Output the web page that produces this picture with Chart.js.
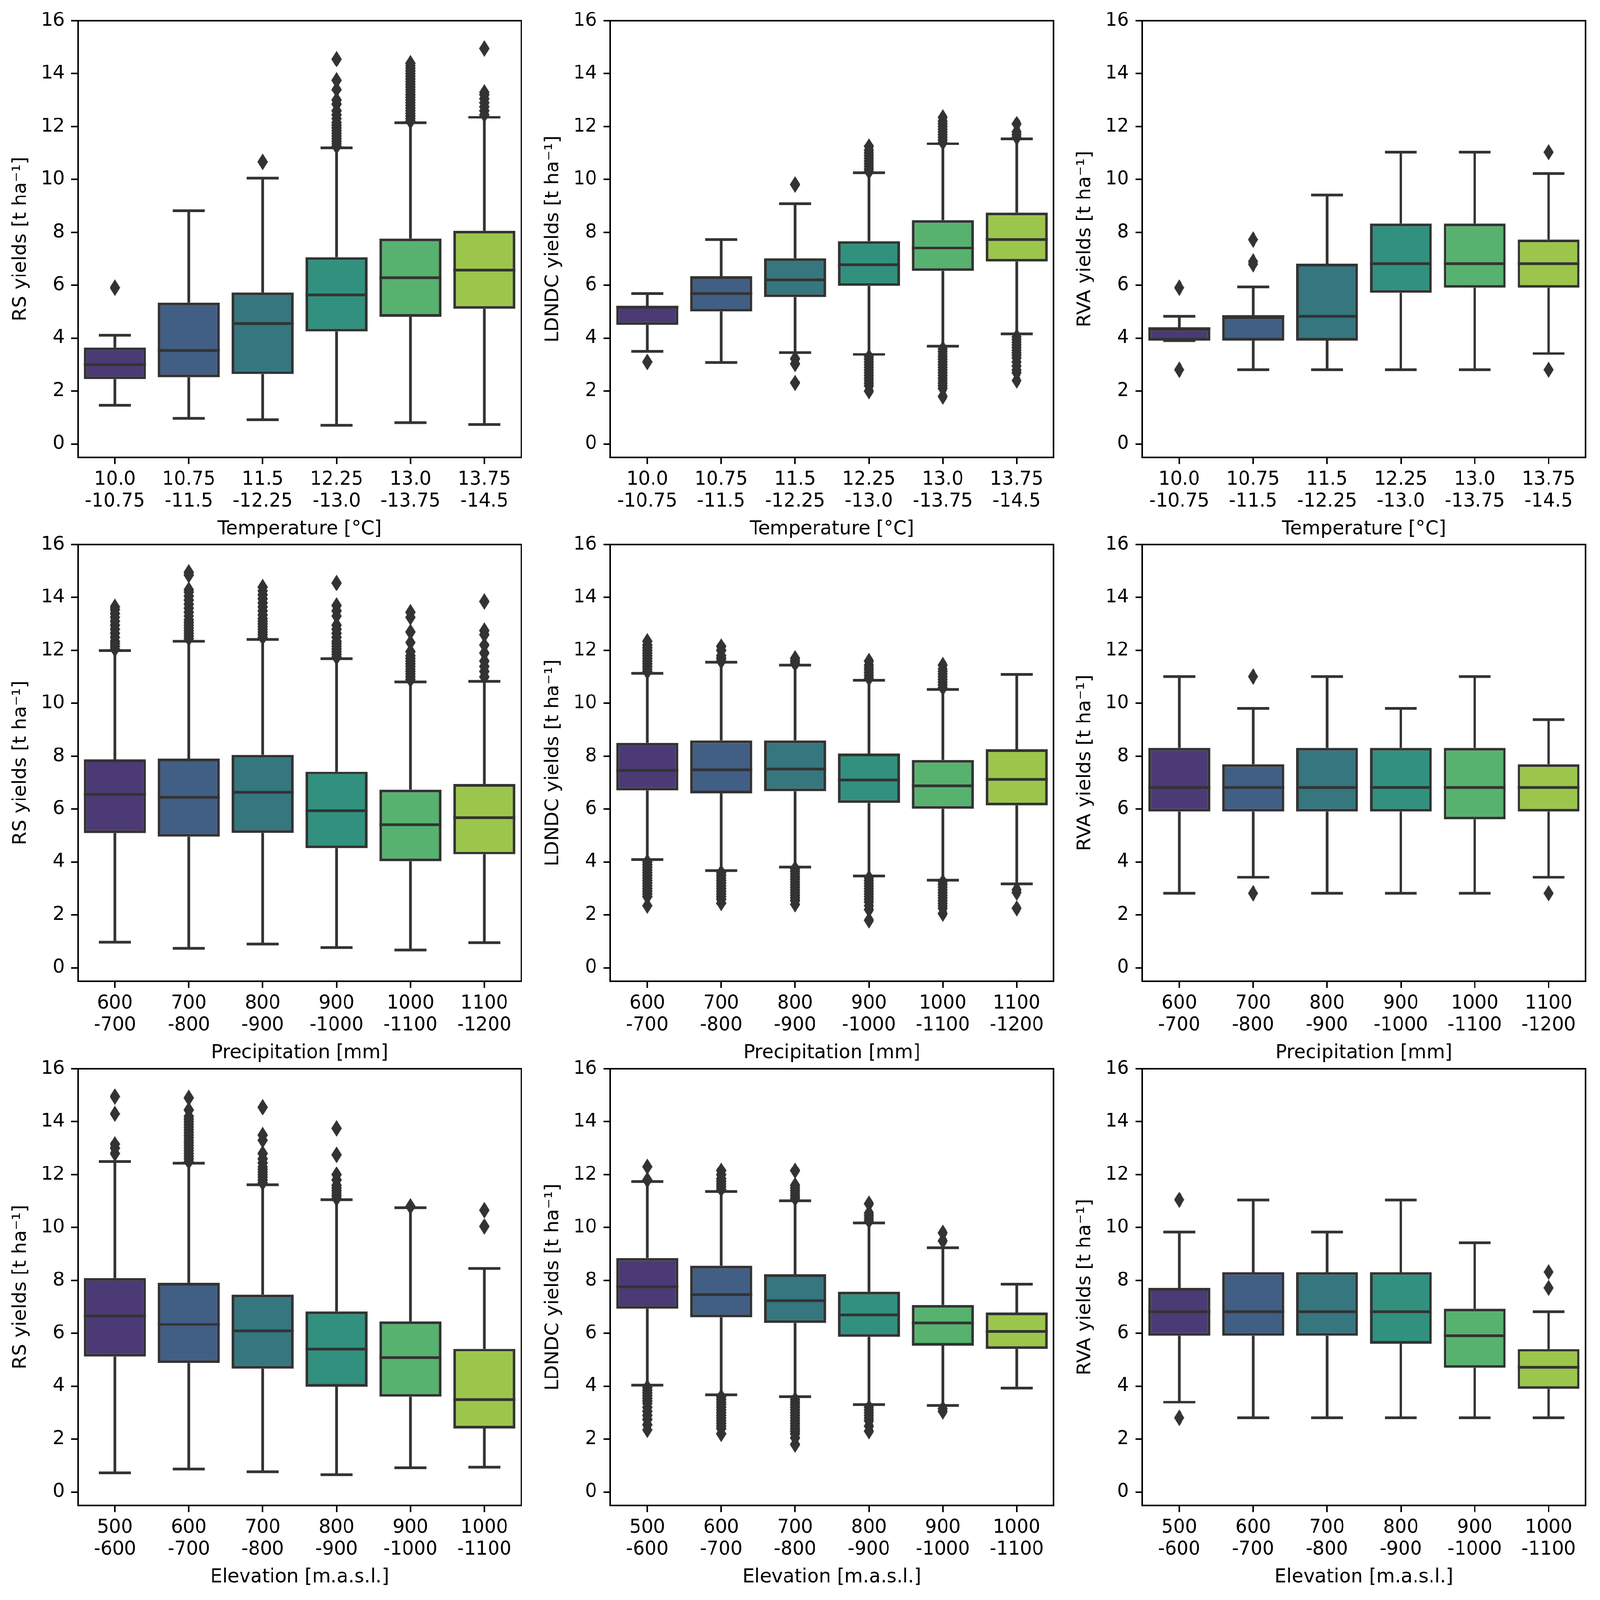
<!DOCTYPE html>
<html>
<head>
<meta charset="utf-8">
<script src="https://cdn.jsdelivr.net/npm/chart.js@4"></script>
<style>
  html, body { margin: 0; padding: 0; background: #fff; overflow: hidden; }
  #fig { position: absolute; left: 0; top: 0; width: 4205px; height: 4157px; transform-origin: 0 0; }
  canvas { position: absolute; }
</style>
</head>
<body>
<div id="fig"></div>
<script>
// x categories (two-line range labels) and y ticks
const tempCats = [['10.0', '-10.75'], ['10.75', '-11.5'], ['11.5', '-12.25'], ['12.25', '-13.0'], ['13.0', '-13.75'], ['13.75', '-14.5']];
const precCats = [['600', '-700'], ['700', '-800'], ['800', '-900'], ['900', '-1000'], ['1000', '-1100'], ['1100', '-1200']];
const elevCats = [['500', '-600'], ['600', '-700'], ['700', '-800'], ['800', '-900'], ['900', '-1000'], ['1000', '-1100']];
const yTicks = [0, 2, 4, 6, 8, 10, 12, 14, 16];

// RS yields ~ temperature
const rsTempLo  = [1.47, 0.97, 0.92, 0.71, 0.81, 0.74];
const rsTempQ1  = [2.46, 2.53, 2.65, 4.25, 4.81, 5.11];
const rsTempMed = [3.00, 3.54, 4.56, 5.64, 6.28, 6.58];
const rsTempQ3  = [3.65, 5.34, 5.73, 7.06, 7.77, 8.06];
const rsTempHi  = [4.11, 8.82, 10.05, 11.19, 12.14, 12.35];
const rsTempOut = [
  [5.91], [], [10.67],
  [11.25, 11.35, 11.45, 11.55, 11.65, 11.75, 11.85, 11.95, 12.05, 12.15, 12.3, 12.45, 12.6, 12.85, 13.0, 13.4, 13.75, 14.55],
  [12.2, 12.3, 12.4, 12.5, 12.6, 12.7, 12.8, 12.9, 13.0, 13.1, 13.2, 13.3, 13.4, 13.5, 13.6, 13.7, 13.8, 13.9, 14.0, 14.1, 14.2, 14.3, 14.4],
  [12.45, 12.6, 12.75, 12.9, 13.05, 13.2, 13.3, 14.95]
];

// LDNDC yields ~ temperature
const ldTempLo  = [3.51, 3.08, 3.46, 3.39, 3.70, 4.16];
const ldTempQ1  = [4.51, 5.01, 5.56, 5.98, 6.55, 6.90];
const ldTempMed = [5.17, 5.69, 6.20, 6.78, 7.41, 7.73];
const ldTempQ3  = [5.22, 6.34, 7.02, 7.67, 8.47, 8.75];
const ldTempHi  = [5.69, 7.73, 9.08, 10.25, 11.35, 11.54];
const ldTempOut = [
  [3.10], [],
  [3.22, 3.03, 2.31, 9.81],
  [10.3, 10.4, 10.5, 10.6, 10.7, 10.8, 10.9, 11.0, 11.1, 11.25, 3.3, 3.2, 3.1, 3.0, 2.9, 2.8, 2.7, 2.6, 2.5, 2.4, 2.3, 2.2, 2.0],
  [11.4, 11.5, 11.6, 11.7, 11.8, 11.9, 12.0, 12.1, 12.2, 12.35, 3.6, 3.5, 3.4, 3.3, 3.2, 3.1, 3.0, 2.9, 2.8, 2.7, 2.6, 2.5, 2.4, 2.3, 2.2, 2.1, 1.8],
  [11.6, 11.7, 11.8, 12.1, 4.05, 3.95, 3.85, 3.75, 3.65, 3.55, 3.45, 3.35, 3.25, 3.1, 2.95, 2.8, 2.7, 2.4]
];

// RVA yields ~ temperature
const rvTempLo  = [3.91, 2.81, 2.81, 2.81, 2.81, 3.42];
const rvTempQ1  = [3.91, 3.91, 3.91, 5.72, 5.91, 5.91];
const rvTempMed = [4.37, 4.82, 4.83, 6.82, 6.82, 6.82];
const rvTempQ3  = [4.37, 4.82, 6.82, 8.33, 8.33, 7.73];
const rvTempHi  = [4.83, 5.94, 9.42, 11.03, 11.03, 10.22];
const rvTempOut = [[5.91, 2.81], [6.8, 6.9, 7.73], [], [], [], [2.81, 11.03]];

// RS yields ~ precipitation
const rsPrecLo  = [0.97, 0.74, 0.90, 0.77, 0.68, 0.95];
const rsPrecQ1  = [5.09, 4.96, 5.10, 4.53, 4.03, 4.29];
const rsPrecMed = [6.56, 6.45, 6.64, 5.94, 5.42, 5.68];
const rsPrecQ3  = [7.88, 7.91, 8.05, 7.42, 6.74, 6.95];
const rsPrecHi  = [11.99, 12.35, 12.42, 11.69, 10.81, 10.83];
const rsPrecOut = [
  [12.05, 12.15, 12.25, 12.35, 12.5, 12.65, 12.8, 12.95, 13.1, 13.25, 13.4, 13.55, 13.65],
  [12.45, 12.55, 12.65, 12.75, 12.85, 12.95, 13.05, 13.15, 13.3, 13.45, 13.6, 13.75, 13.9, 14.05, 14.2, 14.3, 14.85, 14.95],
  [12.5, 12.6, 12.7, 12.8, 12.9, 13.0, 13.1, 13.2, 13.35, 13.5, 13.65, 13.8, 13.95, 14.1, 14.25, 14.4],
  [11.75, 11.85, 11.95, 12.05, 12.15, 12.25, 12.35, 12.5, 12.65, 12.8, 12.95, 13.3, 13.5, 13.7, 14.55],
  [10.9, 11.0, 11.1, 11.2, 11.3, 11.4, 11.5, 11.6, 11.7, 11.8, 11.95, 12.3, 12.7, 13.25, 13.45],
  [11.0, 11.2, 11.4, 11.6, 11.9, 12.2, 12.6, 12.75, 13.85]
];

// LDNDC yields ~ precipitation
const ldPrecLo  = [4.09, 3.68, 3.81, 3.48, 3.31, 3.17];
const ldPrecQ1  = [6.71, 6.60, 6.68, 6.23, 6.01, 6.14];
const ldPrecMed = [7.47, 7.49, 7.52, 7.10, 6.88, 7.12];
const ldPrecQ3  = [8.51, 8.60, 8.60, 8.10, 7.86, 8.26];
const ldPrecHi  = [11.13, 11.56, 11.45, 10.87, 10.53, 11.09];
const ldPrecOut = [
  [11.2, 11.3, 11.4, 11.5, 11.6, 11.7, 11.8, 11.9, 12.0, 12.1, 12.2, 12.35, 4.0, 3.9, 3.8, 3.7, 3.6, 3.5, 3.4, 3.3, 3.2, 3.1, 3.0, 2.9, 2.8, 2.7, 2.35],
  [11.6, 11.7, 11.8, 12.0, 12.15, 3.6, 3.5, 3.4, 3.3, 3.2, 3.1, 3.0, 2.9, 2.8, 2.7, 2.6, 2.45],
  [11.5, 11.6, 11.7, 3.75, 3.65, 3.55, 3.45, 3.35, 3.25, 3.15, 3.05, 2.95, 2.85, 2.75, 2.65, 2.55, 2.4],
  [10.95, 11.05, 11.15, 11.25, 11.35, 11.45, 11.6, 3.4, 3.3, 3.2, 3.1, 3.0, 2.9, 2.8, 2.7, 2.6, 2.5, 2.35, 2.2, 1.8],
  [10.6, 10.7, 10.8, 10.9, 11.0, 11.1, 11.2, 11.3, 11.45, 3.25, 3.15, 3.05, 2.95, 2.85, 2.75, 2.65, 2.55, 2.45, 2.35, 2.25, 2.05],
  [2.95, 2.85, 2.25]
];

// RVA yields ~ precipitation
const rvPrecLo  = [2.82, 3.43, 2.82, 2.82, 2.82, 3.43];
const rvPrecQ1  = [5.91, 5.91, 5.91, 5.91, 5.62, 5.91];
const rvPrecMed = [6.82, 6.82, 6.82, 6.82, 6.82, 6.82];
const rvPrecQ3  = [8.31, 7.70, 8.31, 8.31, 8.31, 7.70];
const rvPrecHi  = [11.01, 9.81, 11.01, 9.81, 11.01, 9.39];
const rvPrecOut = [[], [2.82, 11.01], [], [], [], [2.82]];

// RS yields ~ elevation
const rsElevLo  = [0.73, 0.87, 0.77, 0.66, 0.92, 0.94];
const rsElevQ1  = [5.12, 4.88, 4.67, 3.98, 3.61, 2.41];
const rsElevMed = [6.66, 6.34, 6.09, 5.41, 5.08, 3.50];
const rsElevQ3  = [8.09, 7.91, 7.47, 6.83, 6.46, 5.42];
const rsElevHi  = [12.50, 12.44, 11.62, 11.05, 10.75, 8.46];
const rsElevOut = [
  [12.8, 13.0, 13.15, 14.3, 14.95],
  [12.5, 12.6, 12.7, 12.8, 12.9, 13.0, 13.1, 13.2, 13.3, 13.4, 13.5, 13.6, 13.7, 13.8, 13.9, 14.0, 14.1, 14.2, 14.45, 14.9],
  [11.7, 11.8, 11.9, 12.0, 12.1, 12.2, 12.3, 12.45, 12.6, 12.8, 13.3, 13.5, 14.55],
  [11.1, 11.2, 11.3, 11.4, 11.5, 11.6, 11.8, 12.0, 12.75, 13.75],
  [10.8],
  [10.04, 10.66]
];

// LDNDC yields ~ elevation
const ldElevLo  = [4.04, 3.68, 3.61, 3.30, 3.27, 3.93];
const ldElevQ1  = [6.93, 6.61, 6.40, 5.87, 5.54, 5.42];
const ldElevMed = [7.76, 7.47, 7.23, 6.70, 6.40, 6.07];
const ldElevQ3  = [8.85, 8.56, 8.23, 7.58, 7.07, 6.79];
const ldElevHi  = [11.74, 11.37, 11.01, 10.17, 9.23, 7.86];
const ldElevOut = [
  [11.8, 12.3, 3.95, 3.85, 3.75, 3.65, 3.55, 3.45, 3.35, 3.2, 3.05, 2.9, 2.75, 2.55, 2.35],
  [11.45, 11.55, 11.65, 11.75, 11.85, 12.0, 12.15, 3.6, 3.5, 3.4, 3.3, 3.2, 3.1, 3.0, 2.9, 2.8, 2.7, 2.6, 2.5, 2.4, 2.2],
  [11.1, 11.2, 11.3, 11.4, 11.5, 11.6, 12.15, 3.5, 3.4, 3.3, 3.2, 3.1, 3.0, 2.9, 2.8, 2.7, 2.6, 2.5, 2.4, 2.3, 2.2, 2.05, 1.8],
  [10.25, 10.35, 10.45, 10.55, 10.9, 3.2, 3.1, 3.0, 2.9, 2.8, 2.7, 2.5, 2.3],
  [9.5, 9.8, 3.15, 3.05],
  []
];

// RVA yields ~ elevation
const rvElevLo  = [3.40, 2.81, 2.81, 2.81, 2.81, 2.81];
const rvElevQ1  = [5.91, 5.91, 5.91, 5.61, 4.70, 3.90];
const rvElevMed = [6.82, 6.82, 6.82, 6.82, 5.91, 4.72];
const rvElevQ3  = [7.72, 8.31, 8.31, 8.31, 6.93, 5.41];
const rvElevHi  = [9.83, 11.04, 9.83, 11.04, 9.43, 6.82];
const rvElevOut = [[2.81, 11.05], [], [], [], [], [7.72, 8.32]];

const boxColors = ['#4b3a75', '#415e85', '#35767f', '#31917e', '#57b26f', '#9cc64b'];
const lineColor = '#333333';
const lineW = 7;

const panels = [
  { cats: tempCats, x: 'Temperature [°C]', y: 'RS yields [t ha⁻¹]', lo: rsTempLo, q1: rsTempQ1, med: rsTempMed, q3: rsTempQ3, hi: rsTempHi, out: rsTempOut },
  { cats: tempCats, x: 'Temperature [°C]', y: 'LDNDC yields [t ha⁻¹]', lo: ldTempLo, q1: ldTempQ1, med: ldTempMed, q3: ldTempQ3, hi: ldTempHi, out: ldTempOut },
  { cats: tempCats, x: 'Temperature [°C]', y: 'RVA yields [t ha⁻¹]', lo: rvTempLo, q1: rvTempQ1, med: rvTempMed, q3: rvTempQ3, hi: rvTempHi, out: rvTempOut },
  { cats: precCats, x: 'Precipitation [mm]', y: 'RS yields [t ha⁻¹]', lo: rsPrecLo, q1: rsPrecQ1, med: rsPrecMed, q3: rsPrecQ3, hi: rsPrecHi, out: rsPrecOut },
  { cats: precCats, x: 'Precipitation [mm]', y: 'LDNDC yields [t ha⁻¹]', lo: ldPrecLo, q1: ldPrecQ1, med: ldPrecMed, q3: ldPrecQ3, hi: ldPrecHi, out: ldPrecOut },
  { cats: precCats, x: 'Precipitation [mm]', y: 'RVA yields [t ha⁻¹]', lo: rvPrecLo, q1: rvPrecQ1, med: rvPrecMed, q3: rvPrecQ3, hi: rvPrecHi, out: rvPrecOut },
  { cats: elevCats, x: 'Elevation [m.a.s.l.]', y: 'RS yields [t ha⁻¹]', lo: rsElevLo, q1: rsElevQ1, med: rsElevMed, q3: rsElevQ3, hi: rsElevHi, out: rsElevOut },
  { cats: elevCats, x: 'Elevation [m.a.s.l.]', y: 'LDNDC yields [t ha⁻¹]', lo: ldElevLo, q1: ldElevQ1, med: ldElevMed, q3: ldElevQ3, hi: ldElevHi, out: ldElevOut },
  { cats: elevCats, x: 'Elevation [m.a.s.l.]', y: 'RVA yields [t ha⁻¹]', lo: rvElevLo, q1: rvElevQ1, med: rvElevMed, q3: rvElevQ3, hi: rvElevHi, out: rvElevOut }
];

// figure layout in reference pixels; the whole figure is fitted to the window below
const figW = 4205, figH = 4157;
const colLefts = [205, 1604, 3002];
const rowTops = [54, 1415, 2777];
const axisW = 1165, axisH = 1134;
const yAxisW = 205, xAxisH = 230, padTop = 54, padRight = 36;

const fig = document.getElementById('fig');
fig.style.transform = 'scale(' + (window.innerWidth / figW) + ',' + (window.innerHeight / figH) + ')';

Chart.defaults.font.family = "'DejaVu Sans', sans-serif";
Chart.defaults.color = '#000';

// thin diamond marker for the fliers
const diamond = document.createElement('canvas');
diamond.width = 27; diamond.height = 43;
(function() {
  const c = diamond.getContext('2d');
  c.fillStyle = lineColor;
  c.beginPath();
  c.moveTo(13.5, 0); c.lineTo(27, 21.5); c.lineTo(13.5, 43); c.lineTo(0, 21.5);
  c.closePath();
  c.fill();
})();

// whiskers, caps, medians and the axes frame
function boxParts(p) {
  return {
    id: 'boxParts',
    beforeDatasetsDraw(chart) {
      const ctx = chart.ctx, ys = chart.scales.y;
      const bars = chart.getDatasetMeta(0).data;
      ctx.save();
      ctx.strokeStyle = lineColor;
      ctx.lineWidth = lineW;
      bars.forEach((bar, i) => {
        const cx = bar.x;
        const capHalf = 42;
        const yLo = ys.getPixelForValue(p.lo[i]), yHi = ys.getPixelForValue(p.hi[i]);
        const yQ1 = ys.getPixelForValue(p.q1[i]), yQ3 = ys.getPixelForValue(p.q3[i]);
        ctx.beginPath();
        ctx.moveTo(cx, yQ3); ctx.lineTo(cx, yHi);
        ctx.moveTo(cx, yQ1); ctx.lineTo(cx, yLo);
        ctx.moveTo(cx - capHalf, yHi); ctx.lineTo(cx + capHalf, yHi);
        ctx.moveTo(cx - capHalf, yLo); ctx.lineTo(cx + capHalf, yLo);
        ctx.stroke();
      });
      ctx.restore();
    },
    afterDatasetsDraw(chart) {
      const ctx = chart.ctx, ys = chart.scales.y;
      const bars = chart.getDatasetMeta(0).data;
      ctx.save();
      ctx.strokeStyle = lineColor;
      ctx.lineWidth = lineW;
      bars.forEach((bar, i) => {
        const y = ys.getPixelForValue(p.med[i]);
        ctx.beginPath();
        ctx.moveTo(bar.x - bar.width / 2, y);
        ctx.lineTo(bar.x + bar.width / 2, y);
        ctx.stroke();
      });
      ctx.restore();
    },
    afterDraw(chart) {
      const a = chart.chartArea, ctx = chart.ctx;
      ctx.save();
      ctx.strokeStyle = '#000';
      ctx.lineWidth = 4;
      ctx.strokeRect(a.left, a.top, a.right - a.left, a.bottom - a.top);
      ctx.restore();
    }
  };
}

panels.forEach((p, k) => {
  const col = k % 3, row = Math.floor(k / 3);
  const cv = document.createElement('canvas');
  const w = yAxisW + axisW + padRight, h = padTop + axisH + xAxisH;
  cv.width = w; cv.height = h;
  cv.style.width = w + 'px'; cv.style.height = h + 'px';
  cv.style.left = (colLefts[col] - yAxisW) + 'px';
  cv.style.top = (rowTops[row] - padTop) + 'px';
  fig.appendChild(cv);

  const boxes = p.cats.map((c, i) => ({ x: i, y: [p.q1[i], p.q3[i]] }));
  const fliers = [];
  p.out.forEach((vals, i) => vals.forEach(v => fliers.push({ x: i, y: v })));

  new Chart(cv.getContext('2d'), {
    type: 'bar',
    data: {
      datasets: [
        {
          data: boxes,
          backgroundColor: boxColors,
          borderColor: lineColor,
          borderWidth: lineW,
          borderSkipped: false,
          barPercentage: 0.839,
          categoryPercentage: 1.0
        },
        {
          type: 'scatter',
          data: fliers,
          pointStyle: diamond,
          pointRadius: 14,
          backgroundColor: lineColor,
          borderColor: lineColor
        }
      ]
    },
    options: {
      responsive: false,
      animation: false,
      devicePixelRatio: 1,
      layout: { padding: { top: padTop, right: padRight, left: 0, bottom: 0 } },
      plugins: { legend: { display: false }, tooltip: { enabled: false } },
      scales: {
        x: {
          type: 'linear',
          min: -0.5,
          max: 5.5,
          offset: false,
          afterBuildTicks: s => { s.ticks = p.cats.map((c, i) => ({ value: i })); },
          afterFit: s => { s.height = xAxisH; },
          ticks: {
            callback: v => p.cats[v],
            font: { size: 49, lineHeight: 1.16 },
            color: '#000',
            padding: 12,
            maxRotation: 0,
            autoSkip: false
          },
          grid: { drawOnChartArea: false, offset: false, tickLength: 18, lineWidth: 4, tickWidth: 4, tickColor: '#000', color: '#000' },
          border: { display: false },
          title: { display: true, text: p.x, font: { size: 50 }, color: '#000', padding: { top: 0, bottom: 13 } }
        },
        y: {
          min: -0.5,
          max: 16,
          afterBuildTicks: s => { s.ticks = yTicks.map(v => ({ value: v })); },
          afterFit: s => { s.width = yAxisW; },
          ticks: { font: { size: 49 }, color: '#000', padding: 17 },
          grid: { drawOnChartArea: false, tickLength: 18, lineWidth: 4, tickWidth: 4, tickColor: '#000', color: '#000' },
          border: { display: false },
          title: { display: true, text: p.y, font: { size: 50 }, color: '#000', padding: { top: 25, bottom: 0 } }
        }
      }
    },
    plugins: [boxParts(p)]
  });
});
</script>
</body>
</html>
